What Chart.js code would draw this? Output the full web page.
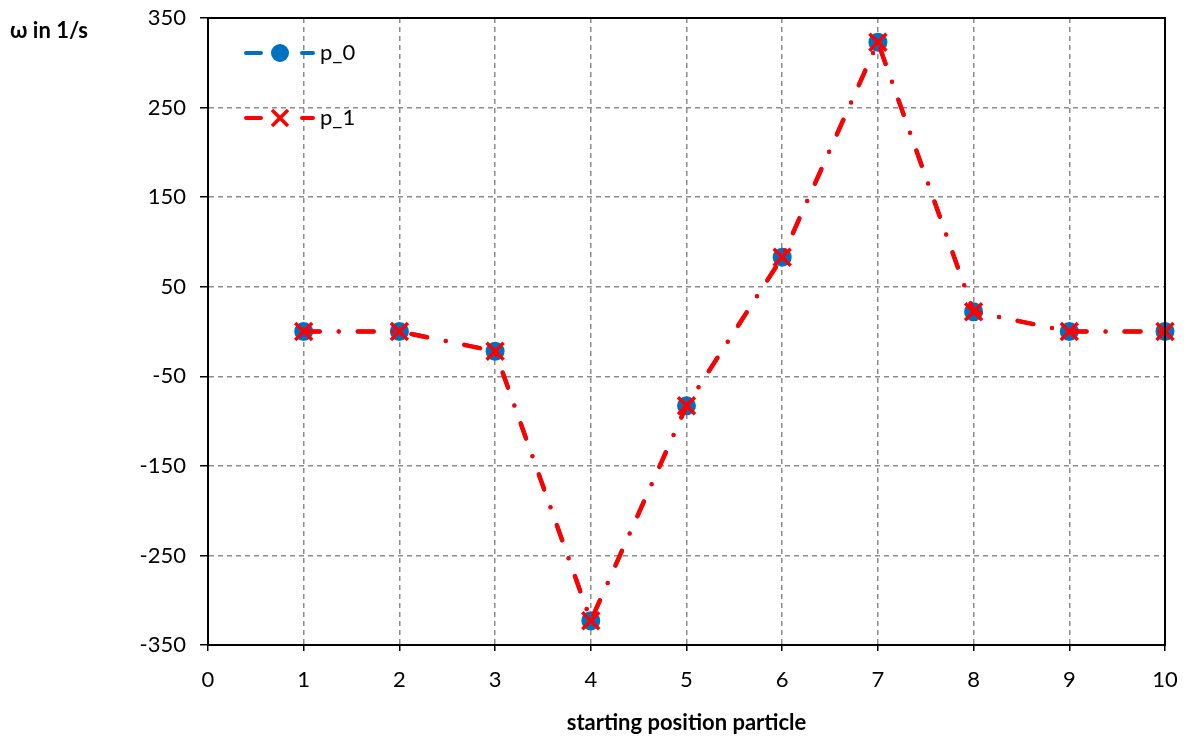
<!DOCTYPE html>
<html lang="en">
<head>
  <meta charset="UTF-8" />
  <title>omega vs starting position</title>
  <script src="https://cdn.jsdelivr.net/npm/chart.js"></script>
  <style>
    body { margin: 0; background: #fff; }
    #wrap { width: 1188px; height: 740px; }
  </style>
</head>
<body>
  <div id="wrap"><canvas id="c" width="1188" height="740"></canvas></div>
  <script>
    // values
    const positions = [1, 2, 3, 4, 5, 6, 7, 8, 9, 10];
    const p0 = [0, 0, -22, -323, -83, 83, 323, 22, 0, 0];
    const p1 = [0, 0, -22, -323, -83, 83, 323, 22, 0, 0];
    const seriesNames = ['p_0', 'p_1'];
    const yTitle = 'ω in 1/s';
    const xTitle = 'starting position particle';

    const FONT = 'Lato, "Open Sans", sans-serif';
    const BLUE = '#0070c0';
    const RED = '#ff0000';
    const RED_DASH = [16, 19, 0, 19];

    const toPts = arr => positions.map((x, i) => ({ x: x, y: arr[i] }));

    // frame, y title and the little legend inside the plot
    const extras = {
      id: 'extras',
      afterDraw(chart) {
        const ctx = chart.ctx;
        const a = chart.chartArea;
        ctx.save();
        ctx.strokeStyle = '#000';
        ctx.lineWidth = 2;
        ctx.strokeRect(a.left, a.top, a.right - a.left, a.bottom - a.top);

        ctx.fillStyle = '#000';
        ctx.font = 'bold 22px ' + FONT;
        ctx.textBaseline = 'middle';
        ctx.textAlign = 'left';
        ctx.fillText(yTitle, 10, 31);

        const items = [
          { y: 53, color: BLUE, mark: 'dot' },
          { y: 118, color: RED, mark: 'x' }
        ];
        items.forEach((it, i) => {
          ctx.strokeStyle = it.color;
          ctx.lineWidth = 4;
          ctx.lineCap = 'round';
          ctx.beginPath();
          ctx.moveTo(246, it.y); ctx.lineTo(261, it.y);
          ctx.moveTo(302, it.y); ctx.lineTo(313, it.y);
          ctx.stroke();
          if (it.mark === 'dot') {
            ctx.fillStyle = it.color;
            ctx.beginPath();
            ctx.arc(280, it.y, 9, 0, Math.PI * 2);
            ctx.fill();
          } else {
            ctx.lineWidth = 3.5;
            ctx.lineCap = 'butt';
            ctx.beginPath();
            ctx.moveTo(272, it.y - 8); ctx.lineTo(288, it.y + 8);
            ctx.moveTo(288, it.y - 8); ctx.lineTo(272, it.y + 8);
            ctx.stroke();
          }
          ctx.fillStyle = '#000';
          ctx.font = '22px ' + FONT;
          ctx.fillText(seriesNames[i], 320, it.y);
        });
        ctx.restore();
      }
    };

    new Chart(document.getElementById('c').getContext('2d'), {
      type: 'line',
      data: {
        datasets: [
          {
            label: seriesNames[0],
            data: toPts(p0),
            borderColor: BLUE,
            backgroundColor: BLUE,
            borderWidth: 4,
            borderDash: RED_DASH,
            borderCapStyle: 'round',
            pointStyle: 'circle',
            pointRadius: 9.5,
            pointBorderWidth: 0,
            pointBackgroundColor: BLUE,
            tension: 0,
            clip: false,
            order: 1
          },
          {
            label: seriesNames[1],
            data: toPts(p1),
            borderColor: RED,
            backgroundColor: RED,
            borderWidth: 4.5,
            borderDash: RED_DASH,
            borderCapStyle: 'round',
            pointStyle: 'crossRot',
            pointRadius: 12,
            pointBorderWidth: 3.5,
            pointBorderColor: RED,
            tension: 0,
            clip: false,
            order: 0
          }
        ]
      },
      options: {
        responsive: false,
        animation: false,
        layout: { padding: { top: 18, right: 23, left: 0, bottom: 0 } },
        plugins: {
          legend: { display: false },
          tooltip: { enabled: false }
        },
        scales: {
          x: {
            type: 'linear',
            min: 0,
            max: 10,
            afterFit(s) { s.height = 95; s.paddingLeft = 0; s.paddingRight = 0; },
            ticks: {
              stepSize: 1,
              color: '#000',
              padding: 16,
              font: { family: FONT, size: 22 }
            },
            grid: {
              color: '#8c8c8c',
              lineWidth: 1.5,
              tickLength: 6,
              tickColor: '#000',
              tickBorderDash: [6, 0]
            },
            border: { display: true, color: '#000', width: 2, dash: [5, 4] },
            title: {
              display: true,
              text: xTitle,
              color: '#000',
              font: { family: FONT, size: 22, weight: 'bold' },
              padding: { top: 2 }
            }
          },
          y: {
            min: -350,
            max: 350,
            afterFit(s) { s.width = 208; s.paddingTop = 0; s.paddingBottom = 0; },
            ticks: {
              stepSize: 100,
              color: '#000',
              padding: 14,
              font: { family: FONT, size: 22 }
            },
            grid: {
              color: '#8c8c8c',
              lineWidth: 1.5,
              tickLength: 8,
              tickColor: '#000'
            },
            border: { display: true, color: '#000', width: 2, dash: [5, 4] }
          }
        }
      },
      plugins: [extras]
    });
  </script>
</body>
</html>
